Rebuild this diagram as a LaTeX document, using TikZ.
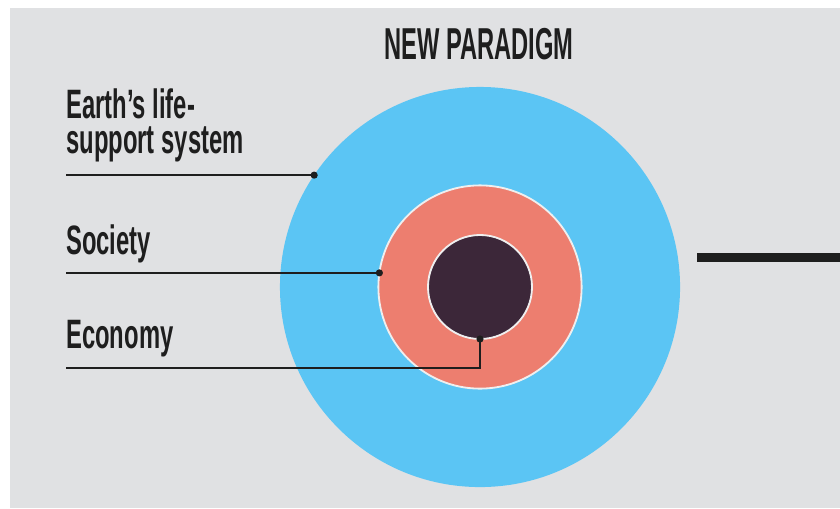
\documentclass[tikz,border=0pt]{standalone}
\usepackage{fontspec}
\usepackage{xcolor}
\usepackage{tikz}
\usetikzlibrary{positioning}
\newfontfamily\condfont{Liberation Sans}[FakeStretch=0.58]
\newfontfamily\headfont{Liberation Sans}[FakeStretch=0.53]

\definecolor{bggray}{HTML}{E0E1E3}
\definecolor{lifeblue}{HTML}{5BC5F4}
\definecolor{socred}{HTML}{ED7E6F}
\definecolor{econplum}{HTML}{3C2739}
\definecolor{ink}{HTML}{1E1E1E}
\definecolor{rim}{HTML}{EFEFEF}

\begin{document}
\begin{tikzpicture}[
    x=0.025cm, y=-0.025cm,
    ring/.style={circle, inner sep=0, outer sep=0},
    rimmed/.style={ring, draw=rim, line width=1.3pt},
    label/.style={font=\condfont\bfseries\fontsize{29.2pt}{25.2pt}\selectfont,
                  text=ink, inner sep=0, align=left},
    heading/.style={font=\headfont\bfseries\fontsize{31.8pt}{32pt}\selectfont,
                    text=ink, inner sep=0},
    leader/.style={draw=ink, line width=1.3pt},
    dot/.style={circle, fill=ink, inner sep=0, minimum size=0.18cm},
]
    \useasboundingbox (0,0) rectangle (840,508);
    \fill[bggray] (10,8) rectangle (840,508);

    % Nested circles
    \node[ring, fill=lifeblue, minimum size=10cm] (life) at (480,287) {};
    \node[rimmed, fill=socred, minimum size=5.08cm] (society) at (life.center) {};
    \node[rimmed, fill=econplum, minimum size=2.6cm] (economy) at (life.center) {};

    % Heading
    \node[heading, anchor=base] (title) at (479,59) {NEW PARADIGM};

    % Labels
    \node[label, anchor=north west] (lifelabel) at (66,88) {Earth’s life-\\support system};
    \node[label, anchor=base west] (soclabel) at (66,254) {Society};
    \node[label, anchor=base west] (econlabel) at (66,348) {Economy};

    % Leader ends
    \coordinate (lifeend) at (66,177);
    \coordinate (socend) at (66,272);
    \coordinate (econend) at (66,368);
    \node[dot] (lifedot) at (life.146) {};
    \node[dot] (socdot) at (society.172) {};
    \node[dot] (econdot) at (economy.south) {};

    % Leaders
    \draw[leader] (lifedot.center) -- (lifedot.center -| lifeend);
    \draw[leader] (socdot.center) -- (socdot.center -| socend);
    \draw[leader] (econdot.center) |- (econend);

    % Bar to the right
    \coordinate (barstart) at (697,257.5);
    \coordinate (barend) at (840,257.5);
    \draw[ink, line width=6.4pt] (barstart) -- (barend);
\end{tikzpicture}
\end{document}
